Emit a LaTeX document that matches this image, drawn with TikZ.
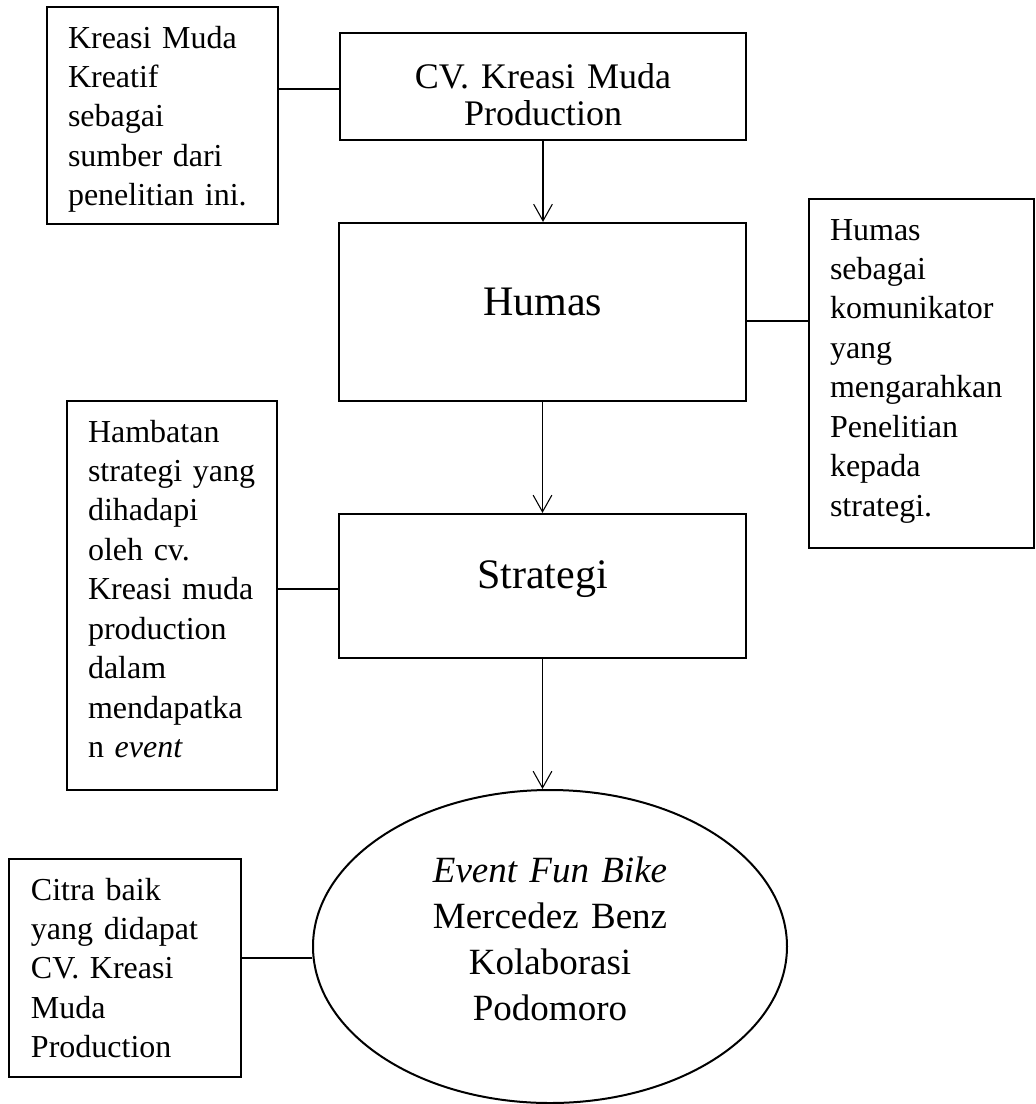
\documentclass[tikz,border=0pt]{standalone}
\usepackage{fontspec}
\setmainfont{Liberation Serif}
\usetikzlibrary{shapes.geometric,arrows.meta,calc}
\begin{document}
\begin{tikzpicture}[x=0.75pt,y=-0.75pt,
  box/.style={draw, line width=1.6pt, rectangle, inner ysep=0pt},
  note/.style={box, align=left, inner xsep=15.75pt, font=\fontsize{24pt}{29.6pt}\selectfont, text height=15pt},
  mainbox/.style={box, align=center, inner xsep=0pt, minimum width=305pt},
  conn/.style={line width=0.8pt},
  arr/.style={conn, -{Straight Barb[length=12.5pt,width=14pt]}}
]
\useasboundingbox (0,0) rectangle (1036,1104);

% side notes
\node[note, text width=141.75pt, minimum width=173.25pt, minimum height=162.75pt, text depth=116.25pt]
  (src) at (162.5,115.5) {Kreasi Muda\\Kreatif\\sebagai\\sumber dari\\penelitian ini.};
\node[note, text width=137.25pt, minimum width=168.75pt, minimum height=261.75pt, text depth=215.25pt]
  (right) at (921.5,373.5) {Humas\\sebagai\\komunikator\\yang\\mengarahkan\\Penelitian\\kepada\\strategi.};
\node[note, text width=126pt, minimum width=157.5pt, minimum height=291.75pt, text depth=245.25pt]
  (hamb) at (172,595.5) {Hambatan\\strategi yang\\dihadapi\\oleh cv.\\Kreasi muda\\production\\dalam\\mendapatka\\n \textit{event}};
\node[note, inner xsep=16.5pt, text width=141pt, minimum width=174pt, minimum height=163.5pt, text depth=117pt]
  (citra) at (125,968) {Citra baik\\yang didapat\\CV. Kreasi\\Muda\\Production};

% main chain
\node[mainbox, text width=285pt, minimum height=80.25pt, font=\fontsize{27pt}{27.75pt}\selectfont,
  text height=15pt, text depth=12.75pt] (cv) at (543,86.5) {CV. Kreasi Muda\\Production};
\node[mainbox, minimum height=133.5pt, font=\fontsize{31.5pt}{36pt}\selectfont,
  text height=15pt, text depth=10.5pt] (humas) at (542.5,312) {Humas};
\node[mainbox, minimum height=108pt, font=\fontsize{31.5pt}{36pt}\selectfont,
  text height=15pt, text depth=12pt] (strat) at (542.5,586) {Strategi};
\node[draw, ellipse, line width=1.5pt, minimum width=355.5pt, minimum height=234.75pt, inner sep=0pt,
  text width=225pt, align=center, font=\fontsize{27.75pt}{34.5pt}\selectfont,
  text height=15pt, text depth=111.75pt] (ell) at (550,946.5)
  {\textit{Event Fun Bike}\\Mercedez Benz\\Kolaborasi\\Podomoro};

% connectors
\coordinate (a1) at ($(cv.west)+(0,2.5)$);
\draw[conn] (a1 -| src.east) -- (a1);
\coordinate (a2) at ($(humas.east)+(0,9)$);
\draw[conn] (a2) -- (a2 -| right.west);
\coordinate (a3) at ($(strat.west)+(0,3)$);
\draw[conn] (a3 -| hamb.east) -- (a3);
\coordinate (a4) at ($(citra.east)+(0,-10)$);
\draw[conn] (a4) -- (a4 -| ell.west);

% arrows
\draw[arr] (cv.south) -- (cv.south |- humas.north);
\draw[arr] (humas.south) -- (humas.south |- strat.north);
\draw[arr] (strat.south) -- (strat.south |- ell.north);
\end{tikzpicture}
\end{document}
